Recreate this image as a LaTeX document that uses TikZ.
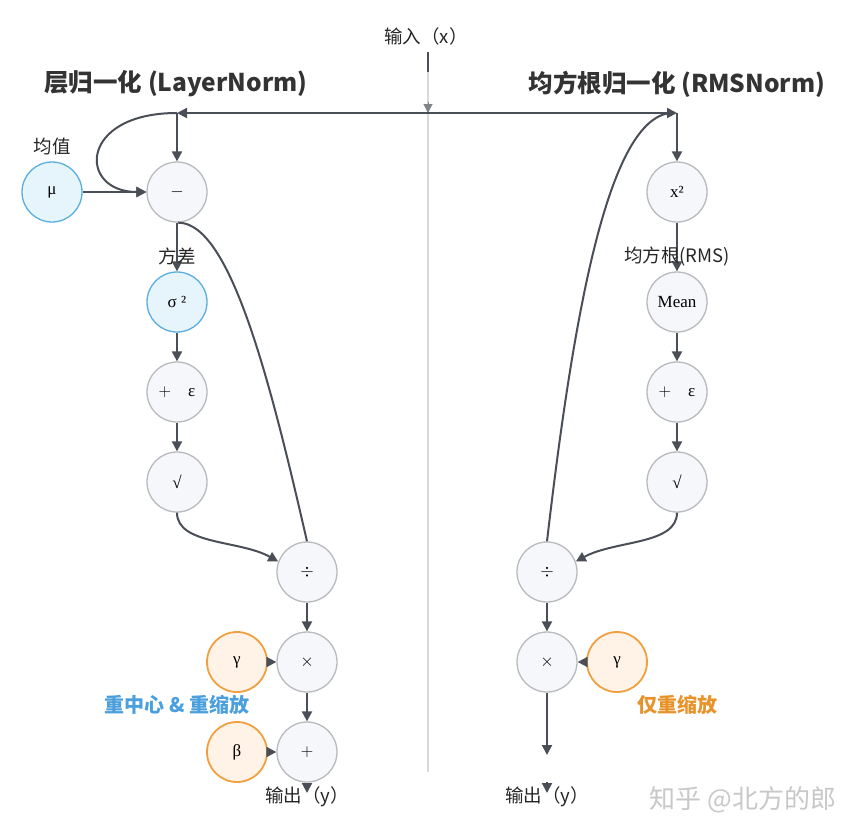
\documentclass[tikz,border=0pt]{standalone}
\usepackage{fontspec}
\newfontfamily\cjk{Noto Sans CJK SC}
\newfontfamily\nf{Liberation Serif}
\usetikzlibrary{arrows.meta}
\definecolor{arrc}{HTML}{4A4F57}
\definecolor{opfill}{HTML}{F5F7FA}
\definecolor{opdraw}{HTML}{B8BABE}
\definecolor{bfill}{HTML}{E6F4FC}
\definecolor{bdraw}{HTML}{5AAEE0}
\definecolor{ofill}{HTML}{FEF3E6}
\definecolor{odraw}{HTML}{F0A040}
\definecolor{btext}{HTML}{4A9FDC}
\definecolor{otext}{HTML}{E8932A}
\definecolor{divc}{HTML}{D9D9D9}
\definecolor{wm}{HTML}{C8C8C8}
\begin{document}
\begin{tikzpicture}[x=1pt,y=-1pt,
  opnode/.style={circle,minimum size=60pt,inner sep=0pt,draw=opdraw,fill=opfill,line width=1.3pt,font=\nf\fontsize{17}{19}\selectfont},
  bnode/.style={opnode,draw=bdraw,fill=bfill},
  onode/.style={opnode,draw=odraw,fill=ofill,line width=1.8pt},
  arr/.style={draw=arrc,line width=2pt,-{Triangle[length=10pt,width=10pt]}},
  ln/.style={draw=arrc,line width=2pt},
  lbl/.style={font=\cjk\fontsize{18.5}{20}\selectfont,text=black!85},
  ttl/.style={font=\cjk\bfseries\fontsize{24.5}{28}\selectfont,text=black!80}]
\useasboundingbox (0,0) rectangle (859,836);
\fill[white] (0,0) rectangle (859,836);
% coordinates
\coordinate (in) at (428,52);
\coordinate (instem) at (428,72);
\coordinate (intipA) at (428,102);
\coordinate (split) at (428,113);
\coordinate (lsplit) at (177,113);
\coordinate (rsplit) at (677,113);
\coordinate (outL) at (307,793);
\coordinate (rend) at (547,755);
\coordinate (rtipA) at (547,782);
\coordinate (outR) at (547,793);
% divider
\draw[divc,line width=2pt] (instem) -- (428,772);
\draw[ln] (in) -- (instem);
\draw[draw=arrc!70,line width=1pt,-{Triangle[length=9pt,width=9pt]}] (intipA) -- (split);
% titles and labels
\node[lbl] (inlbl) at (426,36) {输入（x）};
\node[ttl] (tL) at (176,84) {层归一化 (LayerNorm)};
\node[ttl] (tR) at (677,84) {均方根归一化 (RMSNorm)};
% left nodes
\node[opnode] (minus) at (177,192) {$-$};
\node[bnode] (mu) at (52,192) {μ};
\node[bnode] (sig) at (177,302) {σ ²};
\node[opnode] (eps) at (177,392) {$+$\quad ε};
\node[opnode] (sqrtL) at (177,482) {√};
\node[opnode] (divL) at (307,572) {$\div$};
\node[opnode] (timesL) at (307,662) {$\times$};
\node[onode] (gamL) at (237,662) {γ};
\node[opnode] (plusL) at (307,752) {$+$};
\node[onode] (betL) at (237,752) {β};
% right nodes
\node[opnode] (sq) at (677,192) {x²};
\node[opnode] (mean) at (677,302) {Mean};
\node[opnode] (epsR) at (677,392) {$+$\quad ε};
\node[opnode] (sqrtR) at (677,482) {√};
\node[opnode] (divR) at (547,572) {$\div$};
\node[opnode] (timesR) at (547,662) {$\times$};
\node[onode] (gamR) at (617,662) {γ};
% connectors top
\draw[arr] (split) -- (lsplit);
\draw[arr] (split) -- (rsplit);
\draw[arr] (lsplit) -- (minus.north);
\draw[arr] (lsplit) .. controls (78,113) and (78,192) .. (minus.west);
\draw[arr] (mu.east) -- (minus.west);
\draw[arr] (minus.south) -- (sig.north);
\draw[arr] (sig.south) -- (eps.north);
\draw[arr] (eps.south) -- (sqrtL.north);
\draw[ln] (minus.south) ++(1,0) .. controls (230,222) and (270,380) .. (divL.north);
\draw[arr] (sqrtL.south) .. controls (177,545) and (240,540) .. (divL.160);
\draw[arr] (divL.south) -- (timesL.north);
\draw[arr] (gamL.east) -- (timesL.west);
\draw[arr] (timesL.south) -- (plusL.north);
\draw[arr] (betL.east) -- (plusL.west);
\draw[arr] (plusL.south) -- (outL);
% right connectors
\draw[arr] (rsplit) -- (sq.north);
\draw[arr] (sq.south) -- (mean.north);
\draw[arr] (mean.south) -- (epsR.north);
\draw[arr] (epsR.south) -- (sqrtR.north);
\draw[ln] (divR.north) .. controls (575,300) and (610,120) .. (670,113);
\draw[arr] (sqrtR.south) .. controls (677,545) and (615,540) .. (divR.20);
\draw[arr] (divR.south) -- (timesR.north);
\draw[arr] (gamR.west) -- (timesR.east);
\draw[arr] (timesR.south) -- (rend);
\draw[arr] (rtipA) -- (outR);
% labels
\node[lbl] (mulbl) at (52,146) {均值};
\node[lbl] (siglbl) at (177,256) {方差};
\node[lbl] (rmslbl) at (677,256) {均方根(RMS)};
\node[font=\cjk\bfseries\fontsize{20}{22}\selectfont,text=btext] (capL) at (177,705) {重中心 \& 重缩放};
\node[font=\cjk\bfseries\fontsize{20}{22}\selectfont,text=otext] (capR) at (677,705) {仅重缩放};
\node[lbl] (oL) at (307,797) {输出（y）};
\node[lbl] (oR) at (547,797) {输出（y）};
\node[font=\cjk\fontsize{26}{28}\selectfont,text=wm] (wmk) at (743,800) {知乎 @北方的郎};
\end{tikzpicture}
\end{document}
